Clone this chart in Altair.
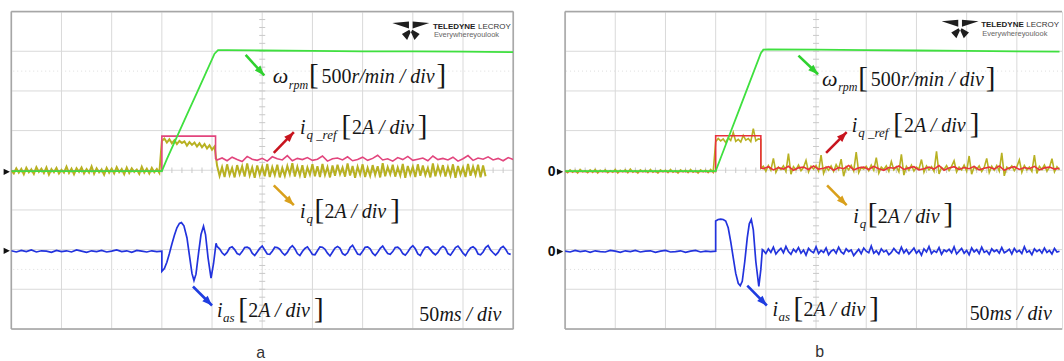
import math
import altair as alt
import pandas as pd

# ---------------- values (x in 50 ms divisions, y in divisions) -------------

# ---- panel a ----
A_IQ_BASE = [
    3.99, 3.92, 4.05, 3.94, 4.03, 3.90, 4.06, 3.95, 4.02, 3.91,
    4.08, 3.96, 4.04, 3.93, 4.07, 3.89, 4.03, 3.95, 4.06, 3.92,
    4.01, 3.94, 4.09, 3.93, 4.04, 3.90, 4.05, 3.96, 4.07, 3.92,
    4.03, 3.94, 4.10, 3.91, 4.05, 3.95, 4.02, 3.89, 4.06, 3.94,
    4.04, 3.92, 4.08, 3.95, 4.03, 3.90, 4.07, 3.93, 4.05, 3.96,
    4.02, 3.91, 4.09, 3.94, 4.04, 3.92, 4.06, 3.95, 4.03, 3.93]
A_IQ_STEP = [4.74, 4.80, 4.70, 4.78, 4.68, 4.76, 4.66, 4.74, 4.69, 4.73,
             4.62, 4.71, 4.64, 4.70, 4.60, 4.68, 4.58, 4.66, 4.55, 4.63,
             4.52, 4.60]
A_IQ_RUN = [
    4.12, 3.86, 4.08, 3.83, 4.15, 3.88, 4.06, 3.82, 4.13, 3.90,
    4.10, 3.84, 4.17, 3.87, 4.07, 3.81, 4.12, 3.89, 4.09, 3.85,
    4.16, 3.83, 4.08, 3.88, 4.14, 3.82, 4.06, 3.86, 4.11, 3.90,
    4.18, 3.84, 4.09, 3.87, 4.13, 3.81, 4.07, 3.89, 4.15, 3.85,
    4.10, 3.83, 4.16, 3.88, 4.08, 3.82, 4.12, 3.86, 4.14, 3.90,
    4.07, 3.84, 4.17, 3.87, 4.11, 3.81, 4.09, 3.89, 4.15, 3.83,
    4.06, 3.86, 4.13, 3.88, 4.10, 3.82, 4.18, 3.85, 4.08, 3.90,
    4.14, 3.84, 4.07, 3.87, 4.16, 3.81, 4.11, 3.89, 4.09, 3.83,
    4.15, 3.86, 4.12, 3.88, 4.06, 3.82, 4.17, 3.85, 4.10, 3.90,
    4.13, 3.84, 4.08, 3.87, 4.15, 3.81, 4.11, 3.89, 4.07, 3.83,
    4.16, 3.86, 4.09, 3.88, 4.14, 3.82, 4.12, 3.85]
A_IQREF_T = [0.0, 3.0, 3.0, 4.07, 4.07]
A_IQREF_V = [3.98, 3.98, 4.86, 4.86, 4.30]
A_IQREF_RUN = [
    4.26, 4.31, 4.24, 4.33, 4.27, 4.22, 4.35, 4.28, 4.25, 4.30,
    4.23, 4.34, 4.29, 4.26, 4.37, 4.24, 4.30, 4.27, 4.32, 4.25,
    4.28, 4.36, 4.23, 4.29, 4.31, 4.26, 4.34, 4.24, 4.27, 4.33,
    4.25, 4.30, 4.38, 4.26, 4.29, 4.23, 4.32, 4.27, 4.35, 4.25,
    4.28, 4.31, 4.24, 4.36, 4.27, 4.30, 4.26, 4.33, 4.23, 4.29,
    4.37, 4.25, 4.31, 4.28, 4.34, 4.26, 4.30, 4.24, 4.32, 4.27]
A_W_T = [0.0, 3.0, 3.1, 3.3, 3.5, 3.7, 3.9, 4.05, 4.12, 4.3, 5.0, 6.0, 7.0, 8.0, 9.0, 10.0]
A_W_V = [3.98, 3.98, 4.28, 4.84, 5.40, 5.96, 6.52, 6.94, 7.03, 7.03, 7.02, 7.01, 7.00, 7.00, 6.99, 6.98]
A_IAS_BASE = [1.97, 1.94, 1.98, 1.95, 1.99, 1.94, 1.97, 1.96, 1.93, 1.98,
              1.95, 1.97, 1.94, 1.99, 1.96, 1.93, 1.97, 1.95, 1.98, 1.94,
              1.96, 1.99, 1.95, 1.97, 1.93, 1.98, 1.96, 1.94, 1.97, 1.95]
A_IAS_T = [3.0, 3.0, 3.05, 3.1, 3.15, 3.2, 3.25, 3.3, 3.35, 3.39, 3.44, 3.5,
           3.55, 3.6, 3.64, 3.68, 3.73, 3.78, 3.83, 3.87, 3.92, 3.98, 4.03, 4.08]
A_IAS_V = [1.96, 1.45, 1.52, 1.68, 1.90, 2.14, 2.36, 2.55, 2.66, 2.68, 2.60, 2.30,
           1.85, 1.40, 1.22, 1.38, 1.90, 2.38, 2.59, 2.38, 1.80, 1.28, 1.65, 2.16]
A_IAS_RUN = [
    2.08, 2.02, 1.92, 1.86, 1.93, 2.04, 2.07, 2.00, 1.90, 1.87, 1.95, 2.05,
    2.06, 2.03, 1.91, 1.85, 1.94, 2.03, 2.09, 1.99, 1.89, 1.88, 1.96, 2.06,
    2.05, 2.01, 1.92, 1.86, 1.93, 2.04, 2.10, 2.02, 1.90, 1.85, 1.95, 2.03,
    2.07, 1.98, 1.88, 1.87, 1.97, 2.07, 2.06, 2.01, 1.91, 1.84, 1.94, 2.04,
    2.08, 2.03, 1.90, 1.86, 1.92, 2.05, 2.11, 2.00, 1.89, 1.87, 1.96, 2.06,
    2.07, 2.02, 1.91, 1.85, 1.93, 2.03, 2.09, 1.99, 1.90, 1.88, 1.95, 2.05,
    2.06, 2.01, 1.90, 1.86, 1.94, 2.04, 2.10, 2.02, 1.89, 1.85, 1.97, 2.06,
    2.07, 2.00, 1.92, 1.87, 1.93, 2.03, 2.08, 2.03, 1.90, 1.86, 1.95, 2.05,
    2.09, 2.01, 1.91, 1.85, 1.96, 2.04, 2.07, 2.02, 1.89, 1.87, 1.94, 2.05,
    2.10, 1.99, 1.92, 1.86, 1.93, 2.04, 2.08, 2.01, 1.90, 1.88]

# ---- panel b ----
B_IQ_BASE = [
    3.99, 3.94, 4.01, 3.95, 4.00, 3.93, 4.02, 3.96, 3.99, 3.94,
    4.01, 3.95, 4.02, 3.93, 4.00, 3.96, 4.01, 3.94, 3.99, 3.95,
    4.02, 3.93, 4.00, 3.96, 4.01, 3.94, 4.03, 3.95, 3.99, 3.93,
    4.01, 3.96, 4.00, 3.94, 4.02, 3.95, 3.99, 3.93, 4.01, 3.96,
    4.00, 3.94, 4.02, 3.95, 3.99, 3.93, 4.01, 3.96, 4.00, 3.94,
    4.02, 3.95, 3.99, 3.93, 4.01, 3.96, 4.00, 3.94, 4.02, 3.95]
B_IQ_STEP = [4.72, 4.80, 4.74, 4.79, 4.70, 4.82, 4.75, 4.95, 4.73, 4.78,
             4.71, 4.88, 4.76, 4.80, 4.72, 5.05, 4.74, 4.79]
B_IQ_DROP_T = [3.9, 3.9]
B_IQ_DROP_V = [4.78, 4.05]
B_IQ_RUN = [
    4.10, 3.98, 4.12, 4.00, 4.30, 3.95, 4.08, 4.02, 4.11, 3.97,
    4.42, 3.90, 4.09, 4.01, 4.13, 3.99, 4.07, 4.25, 3.96, 4.10,
    4.03, 4.12, 3.98, 4.38, 3.92, 4.08, 4.00, 4.11, 3.97, 4.14,
    4.02, 4.28, 3.85, 4.09, 4.01, 4.12, 3.98, 4.46, 3.94, 4.07,
    4.03, 4.10, 3.99, 4.13, 4.00, 4.32, 3.93, 4.08, 4.02, 4.11,
    3.97, 4.22, 4.01, 4.09, 3.96, 4.40, 3.88, 4.10, 4.00, 4.13,
    3.98, 4.08, 4.03, 4.27, 3.95, 4.11, 4.01, 4.09, 3.97, 4.48,
    3.91, 4.07, 4.02, 4.12, 3.99, 4.10, 4.24, 3.96, 4.08, 4.01,
    4.13, 3.98, 4.36, 3.90, 4.09, 4.02, 4.11, 3.97, 4.07, 4.30,
    3.94, 4.10, 4.00, 4.12, 3.98, 4.44, 3.86, 4.08, 4.03, 4.11,
    3.99, 4.09, 4.26, 3.95, 4.12, 4.01, 4.08, 3.97, 4.38, 3.92,
    4.10, 4.02, 4.13, 3.98, 4.07, 4.29, 3.96, 4.09, 4.01]
B_IQREF_T = [0.0, 3.0, 3.0, 3.9, 3.9]
B_IQREF_V = [3.97, 3.97, 4.87, 4.87, 4.06]
B_IQREF_RUN = [
    4.04, 4.09, 4.01, 4.07, 4.03, 4.10, 4.00, 4.06, 4.08, 4.02,
    4.11, 4.03, 4.05, 4.09, 4.00, 4.07, 4.04, 4.12, 4.01, 4.06,
    4.08, 4.02, 4.10, 4.04, 4.00, 4.07, 4.05, 4.11, 4.02, 4.06,
    4.09, 4.01, 4.04, 4.08, 4.03, 4.12, 4.00, 4.06, 4.09, 4.02,
    4.07, 4.04, 4.10, 4.01, 4.05, 4.08, 4.03, 4.11, 4.00, 4.06,
    4.09, 4.02, 4.07, 4.04, 4.10, 4.01, 4.06, 4.08, 4.03, 4.05]
B_W_T = [0.0, 3.0, 3.1, 3.3, 3.5, 3.7, 3.9, 3.95, 4.05, 5.0, 6.0, 7.0, 8.0, 9.0, 9.85]
B_W_V = [3.98, 3.98, 4.31, 4.97, 5.63, 6.29, 6.95, 7.04, 7.05, 7.04, 7.03, 7.02, 7.01, 7.00, 6.99]
B_IAS_BASE = [1.96, 1.94, 1.98, 1.95, 1.97, 1.93, 1.97, 1.95, 1.94, 1.98,
              1.96, 1.93, 1.97, 1.95, 1.98, 1.94, 1.96, 1.97, 1.93, 1.96,
              1.98, 1.94, 1.95, 1.97, 1.93, 1.96, 1.98, 1.94, 1.96, 1.95]
B_IAS_T = [3.0, 3.0, 3.05, 3.1, 3.15, 3.2, 3.25, 3.3, 3.35, 3.4, 3.45, 3.49,
           3.53, 3.58, 3.63, 3.67, 3.71, 3.75, 3.8, 3.86, 3.9, 3.93]
B_IAS_V = [1.96, 2.72, 2.76, 2.77, 2.76, 2.72, 2.55, 2.20, 1.80, 1.40, 1.15, 1.09,
           1.20, 1.70, 2.30, 2.65, 2.76, 2.50, 1.70, 1.07, 1.50, 2.00]
B_IAS_RUN = [
    1.98, 1.90, 2.02, 1.93, 2.06, 1.89, 1.97, 2.03, 1.92, 2.08,
    1.95, 1.88, 2.01, 1.94, 2.05, 1.91, 1.99, 1.86, 2.03, 1.96,
    1.92, 2.07, 1.90, 1.98, 1.93, 2.04, 1.87, 1.96, 2.00, 1.91,
    2.06, 1.94, 1.89, 2.02, 1.95, 1.99, 1.85, 1.93, 2.01, 1.90,
    2.04, 1.96, 1.92, 2.09, 1.91, 1.97, 1.88, 2.02, 1.94, 1.98,
    1.87, 1.93, 2.03, 1.95, 1.90, 2.06, 1.92, 2.00, 1.89, 1.96,
    2.04, 1.91, 1.98, 1.86, 2.02, 1.94, 2.08, 1.90, 1.97, 1.93,
    2.05, 1.88, 1.99, 1.95, 2.01, 1.92, 2.07, 1.89, 1.96, 2.03,
    1.91, 1.98, 1.87, 2.04, 1.94, 2.00, 1.90, 2.06, 1.93, 1.97,
    1.88, 2.02, 1.95, 1.99, 1.91, 2.05, 1.92, 1.96, 2.01, 1.89,
    2.03, 1.94, 1.98, 1.90, 2.07, 1.93, 1.97, 1.87, 2.02, 1.95,
    2.00, 1.91, 2.04, 1.93, 1.98, 1.89, 2.03, 1.94, 1.96]

# ---- annotation arrows (start t, start y, tip t, tip y) ----
ARROW_COLORS = ["#2fd12f", "#c8141e", "#d9a01c", "#1f3de0"]
A_ARROW_T0 = [4.67, 5.23, 5.23, 3.62]
A_ARROW_Y0 = [6.91, 4.44, 3.62, 1.07]
A_ARROW_T1 = [5.04, 5.63, 5.63, 4.00]
A_ARROW_Y1 = [6.39, 4.96, 3.12, 0.59]
B_ARROW_T0 = [4.65, 5.20, 5.22, 3.63]
B_ARROW_Y0 = [6.89, 4.44, 3.62, 1.09]
B_ARROW_T1 = [5.04, 5.61, 5.61, 4.02]
B_ARROW_Y1 = [6.42, 4.96, 3.12, 0.59]

# ---- label pieces: (dt, dy, text, font size, style) relative to an anchor ----
OMEGA_PIECES = [(0.00, 0.00, "ω", 22, "i"), (0.32, -0.14, "rpm", 12, "i"),
                (0.72, -0.02, "[", 29, "n"), (0.97, 0.0, "500", 20, "n"),
                (1.57, 0.0, "r/min / div", 20, "i"), (3.26, -0.02, "]", 29, "n")]
IQREF_PIECES = [(0.00, 0.00, "i", 20, "i"), (0.13, -0.12, "q _ref", 13, "i"),
                (0.83, -0.02, "[", 29, "n"), (1.04, 0.0, "2", 20, "n"),
                (1.24, 0.0, "A / div", 20, "i"), (2.35, -0.02, "]", 29, "n")]
IQ_PIECES = [(0.00, 0.00, "i", 20, "i"), (0.13, -0.14, "q", 13, "i"),
             (0.29, -0.02, "[", 29, "n"), (0.49, 0.0, "2", 20, "n"),
             (0.69, 0.0, "A / div", 20, "i"), (1.80, -0.02, "]", 29, "n")]
IAS_PIECES = [(0.00, 0.00, "i", 20, "i"), (0.12, -0.11, "as", 13, "i"),
              (0.42, -0.02, "[", 29, "n"), (0.62, 0.0, "2", 20, "n"),
              (0.82, 0.0, "A / div", 20, "i"), (1.93, -0.02, "]", 29, "n")]
SCALE_PIECES = [(0.00, 0.00, "50", 20, "n"), (0.40, 0.0, "ms / div", 20, "i")]

A_ANCHORS = [(5.21, 6.20), (5.75, 4.92), (5.75, 2.80), (4.10, 0.29), (8.13, 0.19)]
B_ANCHORS = [(5.12, 6.13), (5.71, 4.96), (5.74, 2.68), (4.13, 0.32), (8.06, 0.23)]

# ---------------- styling ----------------
PX_X = 50.3
PX_Y = 39.7
GRID = "#d9d9d9"
FRAME = "#a6a6a6"
C_IQ = "#b8b122"
C_IQREF_A = "#e2457d"
C_IQREF_B = "#e8323c"
C_W = "#3fe03f"
C_IAS = "#2233dd"
SERIF = "Liberation Serif"
SANS = "Liberation Sans"
LOGO_PATH = ("M-1,-0.42L-0.1,-0.5L-0.1,-0.12Z M1,-0.42L0.1,-0.5L0.1,-0.12Z "
             "M-0.08,-0.05L-0.01,0.08L-0.2,0.5L-0.48,0.18Z M0.08,-0.05L0.01,0.08L0.2,0.5L0.48,0.18Z")
MARK_PATH = "M-1,-1L1,0L-1,1Z"
HEAD_PATH = "M0,0L0.72,1.9L-0.72,1.9Z"


def clock(start, step, vals):
    return [round(start + k * step, 4) for k in range(len(vals))]


def trace_df(segments):
    ts, vs = [], []
    for t, v in segments:
        ts += list(t)
        vs += list(v)
    return pd.DataFrame({"i": range(len(ts)), "t": ts, "v": vs})


def panel(xmax, width, traces, arrows, anchors, markers, zero_labels, logo, caption):
    xs = alt.Scale(domain=[0, xmax], nice=False, zero=False)
    ys = alt.Scale(domain=[0, 8], nice=False, zero=False)

    def X(f):
        return alt.X(f, type="quantitative", scale=xs, axis=None)

    def Y(f):
        return alt.Y(f, type="quantitative", scale=ys, axis=None)

    layers = []
    gt = [k for k in range(0, 11) if k <= xmax]
    layers.append(alt.Chart(pd.DataFrame({"t": gt})).mark_rule(color=GRID, strokeWidth=1).encode(x=X("t")))
    layers.append(alt.Chart(pd.DataFrame({"y": list(range(9))})).mark_rule(color=GRID, strokeWidth=1).encode(y=Y("y")))
    layers.append(alt.Chart(pd.DataFrame({"y": [1.5, 6.5]})).mark_rule(
        color="#dedede", strokeWidth=1, strokeDash=[1, 3]).encode(y=Y("y")))
    # minor ticks on the centre cross
    vt = [round(k * 0.2, 2) for k in range(1, int(xmax / 0.2))]
    ht = [round(k * 0.2, 2) for k in range(1, 40)]
    cross = pd.DataFrame({
        "t": vt + [4.94] * len(ht), "t2": vt + [5.06] * len(ht),
        "y": [3.93] * len(vt) + ht, "y2": [4.07] * len(vt) + ht})
    layers.append(alt.Chart(cross).mark_rule(color="#c9c9c9", strokeWidth=1).encode(
        x=X("t"), x2=alt.X2("t2"), y=Y("y"), y2=alt.Y2("y2")))
    # frame
    if xmax >= 10:
        fr = pd.DataFrame({"t": [0, 10, 0, 0], "t2": [0, 10, 10, 10], "y": [0, 0, 0, 8], "y2": [8, 8, 0, 8]})
    else:
        fr = pd.DataFrame({"t": [0, 0, 0], "t2": [0, xmax, xmax], "y": [0, 0, 8], "y2": [8, 0, 8]})
    layers.append(alt.Chart(fr).mark_rule(color=FRAME, strokeWidth=1.5).encode(
        x=X("t"), x2=alt.X2("t2"), y=Y("y"), y2=alt.Y2("y2")))
    # traces
    for segs, col, sw in traces:
        layers.append(alt.Chart(trace_df(segs)).mark_line(color=col, strokeWidth=sw, clip=True).encode(
            x=X("t"), y=Y("v"), order=alt.Order("i:Q")))
    # arrows
    t0, y0, t1, y1 = arrows
    rows = []
    heads = []
    for k in range(4):
        rows.append({"a": k, "t": t0[k], "y": y0[k], "c": ARROW_COLORS[k]})
        rows.append({"a": k, "t": t1[k], "y": y1[k], "c": ARROW_COLORS[k]})
        dx = (t1[k] - t0[k]) * PX_X
        dy = -(y1[k] - y0[k]) * PX_Y
        ang = math.degrees(math.atan2(dx, -dy)) % 360
        heads.append({"t": t1[k], "y": y1[k], "c": ARROW_COLORS[k], "ang": ang})
    layers.append(alt.Chart(pd.DataFrame(rows)).mark_line(strokeWidth=2.6).encode(
        x=X("t"), y=Y("y"), detail="a:N", color=alt.Color("c:N", scale=None)))
    layers.append(alt.Chart(pd.DataFrame(heads)).mark_point(
        shape=HEAD_PATH, filled=True, size=110, opacity=1, strokeWidth=0).encode(
        x=X("t"), y=Y("y"), color=alt.Color("c:N", scale=None), angle=alt.Angle("ang:Q", scale=None)))
    # labels
    lab = []
    for (at, ay), pieces in zip(anchors, [OMEGA_PIECES, IQREF_PIECES, IQ_PIECES, IAS_PIECES, SCALE_PIECES]):
        for dt, dy, s, fs, st in pieces:
            lab.append({"t": at + dt, "y": ay + dy, "s": s, "fs": fs, "st": st})
    lab = pd.DataFrame(lab)
    for st, style in [("i", "italic"), ("n", "normal")]:
        layers.append(alt.Chart(lab[lab.st == st]).mark_text(
            font=SERIF, fontStyle=style, align="left", baseline="alphabetic", color="#161616").encode(
            x=X("t"), y=Y("y"), text="s:N", size=alt.Size("fs:Q", scale=None)))
    # channel markers
    mk = pd.DataFrame({"t": [markers[0]] * len(markers[1]), "y": markers[1]})
    layers.append(alt.Chart(mk).mark_point(shape=MARK_PATH, filled=True, size=40, opacity=1,
                                           color="#111111", strokeWidth=0).encode(x=X("t"), y=Y("y")))
    if zero_labels:
        zl = pd.DataFrame({"t": [zero_labels] * len(markers[1]), "y": markers[1], "s": ["0"] * len(markers[1])})
        layers.append(alt.Chart(zl).mark_text(font=SANS, fontWeight="bold", fontSize=14, align="right",
                                              baseline="middle", color="#111111").encode(
            x=X("t"), y=Y("y"), text="s:N"))
    # logo
    (it, iy), (tt, ty), (gt2, gy) = logo
    layers.append(alt.Chart(pd.DataFrame({"t": [it], "y": [iy]})).mark_point(
        shape=LOGO_PATH, filled=True, size=1369, opacity=1, color="#1e1e1e", strokeWidth=0).encode(
        x=X("t"), y=Y("y")))
    layers.append(alt.Chart(pd.DataFrame({"t": [tt], "y": [ty], "s": ["TELEDYNE"]})).mark_text(
        font=SANS, fontWeight="bold", fontSize=8, align="left",
        baseline="alphabetic", color="#222222").encode(x=X("t"), y=Y("y"), text="s:N"))
    layers.append(alt.Chart(pd.DataFrame({"t": [tt + 0.90], "y": [ty], "s": ["LECROY"]})).mark_text(
        font=SANS, fontSize=8, align="left",
        baseline="alphabetic", color="#333333").encode(x=X("t"), y=Y("y"), text="s:N"))
    layers.append(alt.Chart(pd.DataFrame({"t": [gt2], "y": [gy], "s": ["Everywhereyoulook"]})).mark_text(
        font=SANS, fontSize=7.5, align="left",
        baseline="alphabetic", color="#666666").encode(x=X("t"), y=Y("y"), text="s:N"))
    # caption
    ct, cy, cs = caption
    layers.append(alt.Chart(pd.DataFrame({"t": [ct], "y": [cy], "s": [cs]})).mark_text(
        font=SANS, fontSize=16, align="center", baseline="middle", color="#333333").encode(
        x=X("t"), y=Y("y"), text="s:N"))

    return alt.layer(*layers).properties(width=width, height=318)


pa = panel(
    10, 503,
    [
        ([(clock(0, 0.05, A_IQ_BASE), A_IQ_BASE), (clock(3.0, 0.05, A_IQ_STEP), A_IQ_STEP),
          (clock(4.1, 0.05, A_IQ_RUN), A_IQ_RUN)], C_IQ, 2.0),
        ([(A_IQREF_T, A_IQREF_V), (clock(4.1, 0.1, A_IQREF_RUN), A_IQREF_RUN)], C_IQREF_A, 1.6),
        ([(A_W_T, A_W_V)], C_W, 1.8),
        ([(clock(0, 0.1, A_IAS_BASE), A_IAS_BASE), (A_IAS_T, A_IAS_V),
          (clock(4.1, 0.05, A_IAS_RUN), A_IAS_RUN)], C_IAS, 1.7),
    ],
    (A_ARROW_T0, A_ARROW_Y0, A_ARROW_T1, A_ARROW_Y1),
    A_ANCHORS,
    (-0.09, [3.96, 1.97]),
    None,
    ((7.96, 7.52), (8.40, 7.56), (8.42, 7.35)),
    (4.97, -0.6, "a"),
)

pb = panel(
    9.9, 498,
    [
        ([(clock(0, 0.05, B_IQ_BASE), B_IQ_BASE), (clock(3.0, 0.05, B_IQ_STEP), B_IQ_STEP),
          (B_IQ_DROP_T, B_IQ_DROP_V), (clock(3.95, 0.05, B_IQ_RUN), B_IQ_RUN)], C_IQ, 1.6),
        ([(B_IQREF_T, B_IQREF_V), (clock(3.95, 0.1, B_IQREF_RUN), B_IQREF_RUN)], C_IQREF_B, 1.6),
        ([(B_W_T, B_W_V)], C_W, 1.8),
        ([(clock(0, 0.1, B_IAS_BASE), B_IAS_BASE), (B_IAS_T, B_IAS_V),
          (clock(3.95, 0.05, B_IAS_RUN), B_IAS_RUN)], C_IAS, 1.7),
    ],
    (B_ARROW_T0, B_ARROW_Y0, B_ARROW_T1, B_ARROW_Y1),
    B_ANCHORS,
    (-0.1, [3.96, 1.95]),
    -0.19,
    ((7.87, 7.56), (8.29, 7.60), (8.31, 7.39)),
    (5.07, -0.58, "b"),
)

chart = alt.hconcat(pa, pb, spacing=52, bounds="flush").properties(
    padding={"left": 2.3, "top": 9.25, "right": 0, "bottom": 0}
).configure_view(stroke="transparent").configure(background="white")

chart.save("out.html", embed_options={"renderer": "svg", "actions": False})
